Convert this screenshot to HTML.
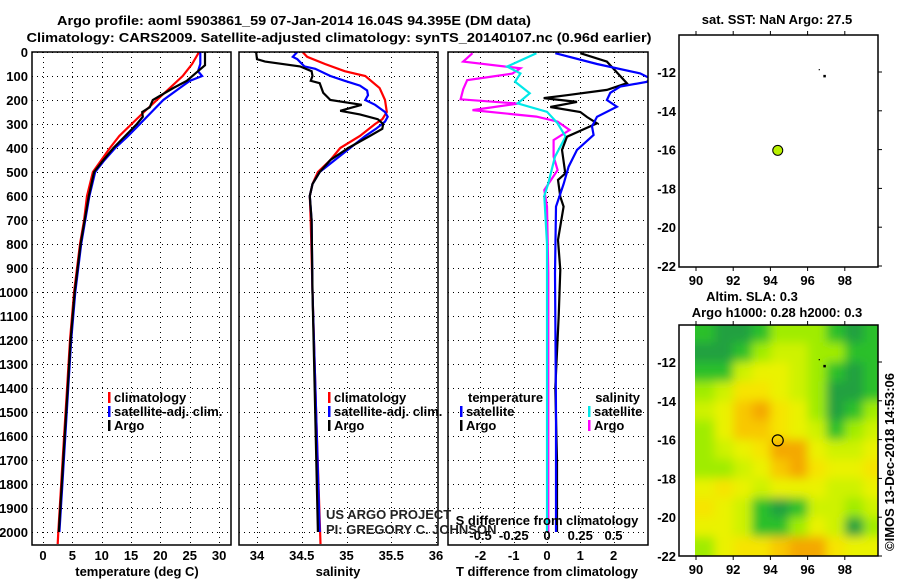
<!DOCTYPE html>
<html><head><meta charset="utf-8"><style>
html,body{margin:0;padding:0;background:#fff;}
svg{display:block;font-family:"Liberation Sans",sans-serif;}
.b{font-weight:bold;font-size:13px;}
</style></head><body>
<svg id="chart" width="900" height="580" viewBox="0 0 900 580" xmlns="http://www.w3.org/2000/svg">
<defs>
<clipPath id="c1"><rect x="32" y="52" width="199" height="493"/></clipPath>
<clipPath id="c2"><rect x="239" y="52" width="199" height="493"/></clipPath>
<clipPath id="c3"><rect x="448" y="52" width="200" height="493"/></clipPath>
<clipPath id="cm"><rect x="695" y="325" width="183" height="231"/></clipPath>
<filter id="bl" x="-10%" y="-10%" width="120%" height="120%"><feGaussianBlur stdDeviation="5"/></filter>
</defs>
<g id="root"></g>
</svg>
<script>
// ---- data ----
const depthTicks=[0,100,200,300,400,500,600,700,800,900,1000,1100,1200,1300,1400,1500,1600,1700,1800,1900,2000];
const tempTicks=[0,5,10,15,20,25,30];
const salTicks=[34,34.5,35,35.5,36];
const tDiffTicks=[-2,-1,0,1,2];
const sDiffTicks=[-0.5,-0.25,0,0.25,0.5];
const sDiffLabels=["-0.5","-0.25","0","0.25","0.5"];

const tClimDepth=[0,50,100,150,200,250,300,350,400,500,600,700,800,1000,1200,1400,1600,1800,2000,2050];
const tClim=[26.6,25.4,23.8,21.6,19.4,17.2,15.1,13.0,11.4,8.5,7.5,7.0,6.3,5.3,4.6,4.1,3.6,3.1,2.6,2.5];
const tSatDepth=[0,50,80,100,120,150,200,250,300,350,400,450,500,600,700,800,1000,1200,1400,1600,1800,2000];
const tSat=[26.8,26.8,26.4,27.1,25.0,23.3,20.5,18.5,16.5,14.5,12.3,10.5,8.9,7.9,7.2,6.5,5.5,4.8,4.3,3.8,3.3,2.8];
const tArgoDepth=[0,55,80,120,150,200,230,250,270,300,350,400,450,500,600,700,800,1000,1200,1400,1600,1800,2000];
const tArgo=[27.6,27.6,26.4,24.5,22.2,18.7,18.2,16.9,17.0,16.0,14.0,12.0,10.3,8.7,7.8,7.1,6.4,5.4,4.7,4.2,3.7,3.2,2.7];

const sClimDepth=[0,20,50,80,100,150,200,250,280,300,350,400,450,500,550,600,700,1000,1500,2050];
const sClim=[34.51,34.56,34.76,34.98,35.21,35.37,35.43,35.45,35.40,35.32,35.15,34.93,34.82,34.68,34.62,34.59,34.60,34.62,34.66,34.71];
const sSatDepth=[0,20,30,60,70,100,120,140,160,180,200,220,250,270,290,320,350,400,450,500,550,600,700,1000,1500,2000];
const sSat=[34.45,34.40,34.45,34.53,34.65,34.82,34.98,35.15,35.23,35.24,35.21,35.32,35.43,35.46,35.43,35.33,35.21,35.04,34.87,34.70,34.62,34.59,34.61,34.62,34.66,34.70];
const sArgoDepth=[0,30,40,60,80,100,120,130,170,200,220,245,260,280,300,320,350,400,450,500,550,600,700,1000,1500,2000];
const sArgo=[33.99,34.00,34.09,34.48,34.61,34.62,34.60,34.70,34.74,34.82,35.17,34.93,35.15,35.35,35.41,35.40,35.26,35.02,34.82,34.70,34.62,34.59,34.61,34.62,34.65,34.68];

const dTSatDepth=[5,50,89,110,124,144,170,200,228,270,310,346,408,478,550,644,922,1500,2000];
const dTSat=[0.25,1.5,2.8,3.1,3.0,2.2,1.9,1.8,2.1,1.5,1.35,1.4,0.9,0.65,0.5,0.27,0.24,0.27,0.27];
const dTArgoDepth=[5,40,130,158,180,192,208,229,250,271,297,353,408,506,533,603,644,783,908,1100,1400,1700,2000];
const dTArgo=[1.0,1.8,2.4,1.8,0.6,-0.1,0.9,0.1,1.0,1.2,1.5,0.6,0.45,0.55,0.33,0.4,0.5,0.33,0.4,0.35,0.25,0.3,0.3];
const dSSatDepth=[5,61,89,124,172,214,249,297,353,436,547,600,800,2000];
const dSSat=[-0.08,-0.3,-0.2,-0.24,-0.13,-0.22,0.0,0.08,0.14,0.06,0.01,-0.02,0.0,0.0];
const dSArgoDepth=[5,40,68,90,117,155,197,215,242,269,290,325,367,436,492,575,644,922,2000];
const dSArgo=[-0.56,-0.63,-0.2,-0.26,-0.6,-0.63,-0.65,-0.22,-0.56,-0.08,0.08,0.17,0.05,0.05,0.08,-0.02,0.0,0.01,0.01];

const lonTicks=[90,92,94,96,98];
const latTicks=[-12,-14,-16,-18,-20,-22];
const argoLon=[94.395], argoLat=[-16.04];
const trackLon=[96.65,96.9], trackLat=[-11.9,-12.2];
const slaLats=[-10.5,-11.5,-12.5,-13.5,-14.5,-15.5,-16.5,-17.5,-18.5,-19.5,-20.5,-21.5];
const slaLons=[90.5,91.5,92.5,93.5,94.5,95.5,96.5,97.5,98.5,99.5];
const slaGrid=[
[1,0,0,1,2,2,2,1,0,1],
[0,0,1,2,3,3,2,2,1,1],
[1,1,3,4,4,3,2,1,0,1],
[2,3,5,5,4,3,2,0,0,1],
[3,4,6,7,5,4,2,0,1,2],
[2,4,6,6,5,4,3,1,2,3],
[2,3,4,5,7,7,4,3,3,4],
[2,2,3,4,6,7,5,4,4,5],
[4,5,4,3,4,4,4,3,3,4],
[5,4,3,1,0,1,3,3,2,3],
[4,4,3,1,1,2,4,3,0,2],
[2,4,5,5,6,7,7,5,4,4]];
const slaColors=["#20a040","#2cc02c","#a0ec00","#cef200","#eaf200","#f6e400","#f8c800","#f4a800","#ee9000"];

// ---- helpers ----
const NS="http://www.w3.org/2000/svg";
const root=document.getElementById('root');
function el(tag,attrs,parent,text){const e=document.createElementNS(NS,tag);for(const k in attrs)e.setAttribute(k,attrs[k]);if(text!==undefined)e.textContent=text;(parent||root).appendChild(e);return e;}
const yD=d=>52+d*0.24;
const xT=t=>43+t*5.87;
const xS=s=>257+(s-34)*89.5;
const xDT=v=>547+v*33.3;
const xDS=v=>547+v*133;
const xLon=l=>696+(l-90)*18.6;
const yLatTop=l=>72+(-12-l)*19.4;
const yLatBot=l=>362+(-12-l)*19.4;
const px=v=>Math.round(v)+0.5;

function grid(x0,x1,xs){
  for(const d of depthTicks){const l=el('line',{x1:x0,x2:x1,y1:px(yD(d)),y2:px(yD(d)),stroke:'#000','stroke-dasharray':'1,4','stroke-width':1,'shape-rendering':'crispEdges'});
  
  }
  for(const x of xs){const l=el('line',{x1:px(x),x2:px(x),y1:52,y2:545,stroke:'#000','stroke-dasharray':'1,4','stroke-width':1,'shape-rendering':'crispEdges'});
  
  }
}
function frame(x,w,name){const r=el('rect',{x:x,y:52,width:w,height:493,fill:'none',stroke:'#000','stroke-width':1.5});
  
  }
function line(ds,vs,fx,color,clip,name){
  const pts=ds.map((d,i)=>fx(vs[i]).toFixed(1)+','+yD(d).toFixed(1)).join(' ');
  const p=el('polyline',{points:pts,fill:'none',stroke:color,'stroke-width':2.2,'clip-path':'url(#'+clip+')'});
  
  
}
function txt(x,y,s,name,anchor,cls,extra){const t=el('text',Object.assign({x:x,y:y,'text-anchor':anchor||'start',class:cls||'b'},extra||{}),root,s);
  
  
  return t;}

// titles
txt(294,25,"Argo profile: aoml 5903861_59 07-Jan-2014 16.04S 94.395E (DM data)","chart-title-line1","middle","b",{textLength:474,lengthAdjust:'spacingAndGlyphs','font-size':'14px'});
txt(339,42,"Climatology: CARS2009. Satellite-adjusted climatology: synTS_20140107.nc (0.96d earlier)","chart-title-line2","middle","b",{textLength:625,lengthAdjust:'spacingAndGlyphs','font-size':'14px'});

// panels grids
grid(32,231,tempTicks.map(xT));
grid(239,438,salTicks.map(xS));
grid(448,648,tDiffTicks.map(xDT));

// depth labels
for(const d of depthTicks){txt(28,yD(d)+5,String(d),"depth-tick-label","end");}

// series
line(tClimDepth,tClim,xT,'#ff0000','c1','temp-climatology-line');
line(tSatDepth,tSat,xT,'#0000ff','c1','temp-satellite-line');
line(tArgoDepth,tArgo,xT,'#000000','c1','temp-argo-line');
line(sClimDepth,sClim,xS,'#ff0000','c2','sal-climatology-line');
line(sSatDepth,sSat,xS,'#0000ff','c2','sal-satellite-line');
line(sArgoDepth,sArgo,xS,'#000000','c2','sal-argo-line');
line(dSArgoDepth,dSArgo,xDS,'#ff00ff','c3','sdiff-argo-line');
line(dSSatDepth,dSSat,xDS,'#00e8e8','c3','sdiff-satellite-line');
line(dTArgoDepth,dTArgo,xDT,'#000000','c3','tdiff-argo-line');
line(dTSatDepth,dTSat,xDT,'#0000ff','c3','tdiff-satellite-line');

frame(32,199,'temperature-panel');frame(239,199,'salinity-panel');frame(448,200,'difference-panel');

// x ticks
tempTicks.forEach(t=>txt(xT(t),560,String(t),"temp-tick-label","middle"));
salTicks.forEach(s=>txt(xS(s),560,String(s),"salinity-tick-label","middle"));
tDiffTicks.forEach(t=>txt(xDT(t),560,String(t),"tdiff-tick-label","middle"));
sDiffTicks.forEach((s,i)=>txt(xDS(s),540,sDiffLabels[i],"sdiff-tick-label","middle"));
txt(547,525,"S difference from climatology","sdiff-axis-title","middle");
txt(137,576,"temperature (deg C)","x-axis-title-temperature","middle");
txt(338,576,"salinity","x-axis-title-salinity","middle");
txt(547,576,"T difference from climatology","x-axis-title-difference","middle");

// legends
function leg(x,y,color,label,name,anchor){
  const r=el('rect',{x:x,y:y-10,width:2.5,height:11,fill:color});
  
  
  txt(x+6,y,label,name,anchor||'start');
}
leg(108,402,'#ff0000','climatology','legend-climatology');
leg(108,416,'#0000ff','satellite-adj. clim.','legend-satellite');
leg(108,430,'#000000','Argo','legend-argo');
leg(328,402,'#ff0000','climatology','legend-climatology');
leg(328,416,'#0000ff','satellite-adj. clim.','legend-satellite');
leg(328,430,'#000000','Argo','legend-argo');
txt(468,402,'temperature','legend-temperature-header');
leg(460,416,'#0000ff','satellite','legend-tdiff-satellite');
leg(460,430,'#000000','Argo','legend-tdiff-argo');
txt(640,402,'salinity','legend-salinity-header','end');
leg(588,416,'#00e8e8','satellite','legend-sdiff-satellite');
leg(588,430,'#ff00ff','Argo','legend-sdiff-argo');

txt(326,519,'US ARGO PROJECT','project-credit','start','',{'font-size':'12px',fill:'#222'});
txt(326,534,'PI: GREGORY C. JOHNSON','pi-credit','start','',{'font-size':'12px',fill:'#222'});

// ---- maps ----
function mapAxes(y0,y1,yLat,name){
  const r=el('rect',{x:679,y:y0,width:199,height:y1-y0,fill:'none',stroke:'#000','stroke-width':1.5});
  
  
  lonTicks.forEach(l=>{
    el('line',{x1:xLon(l),x2:xLon(l),y1:y0-4,y2:y0,stroke:'#000'});
    el('line',{x1:xLon(l),x2:xLon(l),y1:y1,y2:y1+4,stroke:'#000'});
    txt(xLon(l),y1+18,String(l),'lon-tick-label','middle');
  });
  latTicks.forEach(l=>{
    el('line',{x1:878,x2:882,y1:yLat(l),y2:yLat(l),stroke:'#000'});
    txt(676,yLat(l)+5,String(l),'lat-tick-label','end');
  });
}
// top map
mapAxes(35,267,yLatTop,'sst-map');
trackLon.forEach((l,i)=>{const c=el('rect',{x:xLon(l)-1,y:yLatTop(trackLat[i])-1,width:i?2.5:1.2,height:i?2.5:1.2,fill:'#000'});
  
  });
argoLon.forEach((l,i)=>{const c=el('circle',{cx:xLon(l),cy:yLatTop(argoLat[i]),r:5,fill:'#b8f000',stroke:'#000','stroke-width':1});
  
  });
txt(777,24,'sat. SST: NaN Argo: 27.5','sst-map-title','middle');

// bottom map heatmap
const hg=el('g',{'clip-path':'url(#cm)'});
const hb=el('g',{filter:'url(#bl)'},hg);
const cw=18.6,ch=19.4;
slaGrid.forEach((row,ri)=>row.forEach((v,ci)=>{
  const x=xLon(slaLons[ci])-cw/2, y=yLatBot(slaLats[ri])-ch/2;
  const r=el('rect',{x:x-(ci==0?12:0),y:y-(ri==0?12:0),width:cw+1+(ci==0?12:0)+(ci==row.length-1?12:0),height:ch+1+(ri==0?12:0)+(ri==slaGrid.length-1?12:0),fill:slaColors[v]},hb);
  
  
}));
mapAxes(325,556,yLatBot,'sla-map');
trackLon.forEach((l,i)=>{const c=el('rect',{x:xLon(l)-1,y:yLatBot(trackLat[i])-1,width:i?2.5:1.2,height:i?2.5:1.2,fill:'#000'});
  
  });
argoLon.forEach((l,i)=>{const c=el('circle',{cx:xLon(l),cy:yLatBot(argoLat[i]),r:5.5,fill:'none',stroke:'#000','stroke-width':1.2});
  
  });
txt(752,301,'Altim. SLA: 0.3','sla-map-title','middle');
txt(777,317,'Argo h1000: 0.28 h2000: 0.3','sla-map-subtitle','middle');
txt(0,0,'©IMOS 13-Dec-2018 14:53:06','imos-timestamp','middle','',{'font-size':'12px',transform:'translate(894,462) rotate(-90)'});
</script>
</body></html>
